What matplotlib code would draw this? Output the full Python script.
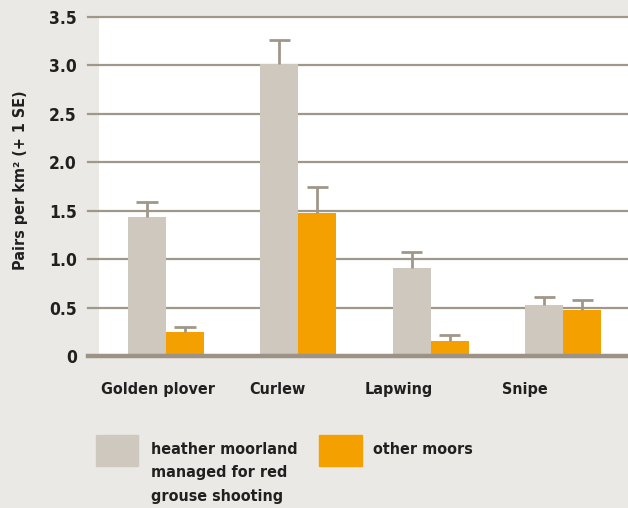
import matplotlib.pyplot as plt
from matplotlib.patches import Rectangle
import matplotlib.transforms as mtransforms
import numpy as np

plt.rcParams['font.family'] = ['DejaVu Sans']
plt.rcParams['font.stretch'] = 'condensed'
plt.rcParams['font.weight'] = 'bold'

# data
species = ['Golden plover', 'Curlew', 'Lapwing', 'Snipe']
grouse_moor = [1.44, 3.01, 0.91, 0.53]
grouse_se = [0.15, 0.25, 0.16, 0.08]
other_moor = [0.25, 1.48, 0.155, 0.475]
other_se = [0.05, 0.26, 0.065, 0.10]
yticks = [0, 0.5, 1.0, 1.5, 2.0, 2.5, 3.0, 3.5]
ytick_labels = ['0', '0.5', '1.0', '1.5', '2.0', '2.5', '3.0', '3.5']
legend_labels = ['heather moorland\nmanaged for red\ngrouse shooting', 'other moors']

bg = '#ebe9e5'
grey = '#cfc8bf'
orange = '#f4a000'
line_col = '#a0978b'
text_col = '#231f20'

fig = plt.figure(figsize=(6.28, 5.08), dpi=100, facecolor=bg)
ax = fig.add_axes([99/628, 1 - 356/508, 529/628, 339/508])
ax.set_facecolor('white')

x = np.arange(len(species))
w = 0.287
ax.bar(x - w/2, grouse_moor, w, color=grey, zorder=2)
ax.bar(x + w/2, other_moor, w, color=orange, zorder=2)

# error bars, upper half only
cap = 0.08
for xs, vals, errs in [(x - w/2, grouse_moor, grouse_se), (x + w/2, other_moor, other_se)]:
    tops = np.array(vals) + np.array(errs)
    ax.vlines(xs, vals, tops, color=line_col, lw=2, zorder=3)
    ax.hlines(tops, xs - cap, xs + cap, color=line_col, lw=2, zorder=3)

ax.set_xlim(-0.506, 3.49)
ax.set_ylim(0, 3.5)

# gridlines reaching a little left of the white area
for yv in yticks[1:]:
    ax.axhline(yv, xmin=-0.021, xmax=1, color=line_col, lw=1.6, zorder=1, clip_on=False)
ax.axhline(0, xmin=-0.021, xmax=1, color='#9c9286', lw=3.2, zorder=4, clip_on=False)

for s in ax.spines.values():
    s.set_visible(False)
ax.set_xticks([])
ax.set_yticks(yticks)
ax.set_yticklabels(ytick_labels)
ax.tick_params(axis='y', length=0, pad=16, labelsize=12.5, labelcolor=text_col)

ax.set_ylabel('Pairs per km² (+ 1 SE)', fontsize=11.5, color=text_col, fontweight='bold')
ax.yaxis.set_label_coords(-(99 - 28)/529, 0.52)

# category labels sit a little left of the bar pairs
label_shift = [-0.06, -0.16, -0.24, -0.29]
trans = mtransforms.blended_transform_factory(ax.transData, ax.transAxes)
for xi, name, sh in zip(x, species, label_shift):
    ax.text(xi + sh, -0.10, name, transform=trans, ha='center', va='center',
            fontsize=11.5, color=text_col, fontweight='bold')

# legend
fig.add_artist(Rectangle((96/628, 1 - 466/508), 42/628, 31/508, color=grey, transform=fig.transFigure))
fig.add_artist(Rectangle((319/628, 1 - 466/508), 43/628, 31/508, color=orange, transform=fig.transFigure))
fig.text(151/628, 1 - 442/508, legend_labels[0], ha='left', va='top', fontsize=11.5,
         color=text_col, fontweight='bold', linespacing=1.7)
fig.text(373/628, 1 - 442/508, legend_labels[1], ha='left', va='top', fontsize=11.5,
         color=text_col, fontweight='bold')

fig.savefig('out.png', dpi=100, facecolor=bg)
